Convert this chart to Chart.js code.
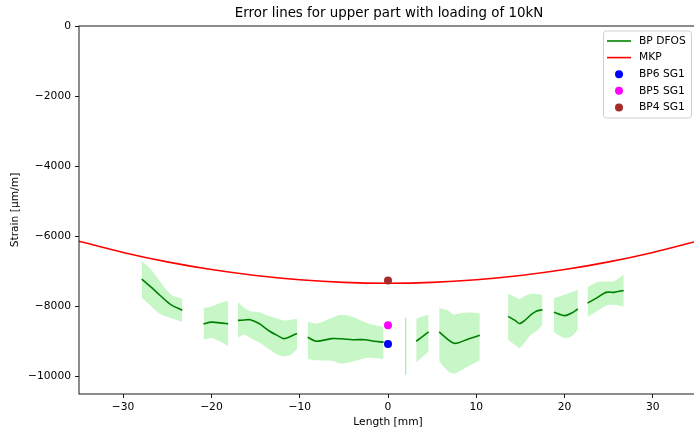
<!DOCTYPE html>
<html>
<head>
<meta charset="utf-8">
<script src="https://cdn.jsdelivr.net/npm/chart.js@4.4.1/dist/chart.umd.min.js"></script>
<style>
  html, body { margin: 0; padding: 0; overflow: hidden; background: #fff; }
  canvas { display: block; }
</style>
</head>
<body>
<canvas id="errorChart" width="701" height="432"></canvas>
<script>
// chart text
const chartTitle = "Error lines for upper part with loading of 10kN";
const xLabel = "Length [mm]";
const yLabel = "Strain [\u03bcm/m]";
const seriesNames = ["BP DFOS", "MKP", "BP6 SG1", "BP5 SG1", "BP4 SG1"];

// tick labels
const xTicks = [-30, -20, -10, 0, 10, 20, 30];
const yTicks = [0, -2000, -4000, -6000, -8000, -10000];

// MKP curve
const mkpX = [-35, -30, -25, -20, -15, -10, -5, 0, 5, 10, 15, 20, 25, 30, 35];
const mkpY = [-6140, -6460, -6730, -6950, -7120, -7240, -7315, -7340, -7315, -7240, -7120, -6950, -6730, -6460, -6140];

// DFOS segments (mean line and error band)
const dfosX = [
  [-27.9, -26.8, -25.8, -24.6, -23.3],
  [-20.9, -20.0, -19.0, -18.1],
  [-17.0, -16.3, -15.6, -14.6, -13.4, -12.5, -11.8, -11.0, -10.3],
  [-9.1, -8.1, -6.4, -5.3, -4.0, -2.6, -1.6, -0.5],
  [3.2, 4.6],
  [5.8, 6.8, 7.4, 7.9, 9.1, 10.4],
  [13.6, 14.4, 14.9, 15.5, 16.2, 16.8, 17.5],
  [18.8, 20.0, 20.8, 21.5],
  [22.6, 23.7, 24.7, 25.6, 26.7]
];
const dfosMean = [
  [-7220, -7460, -7690, -7950, -8110],
  [-8500, -8450, -8470, -8495],
  [-8400, -8390, -8380, -8490, -8710, -8835, -8920, -8855, -8770],
  [-8880, -8995, -8920, -8925, -8950, -8950, -8995, -9020],
  [-8995, -8730],
  [-8730, -8950, -9045, -9045, -8930, -8825],
  [-8285, -8400, -8490, -8400, -8235, -8140, -8095],
  [-8170, -8265, -8190, -8075],
  [-7905, -7750, -7600, -7600, -7545]
];
const dfosUpper = [
  [-6700, -6960, -7300, -7660, -7790],
  [-8050, -8000, -7900, -7840],
  [-7875, -8040, -8140, -8170, -8285, -8350, -8400, -8380, -8360],
  [-8430, -8490, -8330, -8240, -8300, -8450, -8530, -8590],
  [-8350, -8235],
  [-8045, -8120, -8235, -8210, -8175, -8200],
  [-7640, -7730, -7790, -7705, -7640, -7645, -7670],
  [-7760, -7665, -7590, -7525],
  [-7450, -7310, -7290, -7280, -7100]
];
const dfosLower = [
  [-7745, -8000, -8215, -8330, -8445],
  [-8950, -8900, -9000, -9140],
  [-8890, -8800, -8900, -9030, -9230, -9380, -9420, -9380, -9215],
  [-9500, -9540, -9550, -9630, -9570, -9470, -9480, -9500],
  [-9595, -9280],
  [-9565, -9850, -9915, -9880, -9710, -9540],
  [-8950, -9100, -9185, -9025, -8805, -8710, -8520],
  [-8740, -8900, -8855, -8665],
  [-8300, -8130, -7980, -7955, -8000]
];
// single-point band near x = 2
const sliverX = [2.0, 2.0];
const sliverY = [-8330, -9945];

// strain gauges
const gaugeX = [0, 0, 0];
const gaugeY = [-9070, -8540, -7260];
const gaugeColors = ["#0000ff", "#ff00ff", "#a52a2a"];

const green = "#008000";
const red = "#ff0000";
const bandColor = "rgba(144, 238, 144, 0.5)";

function pts(xs, ys) {
  return xs.map((x, i) => ({ x: x, y: ys[i] }));
}

function fmt(v) {
  return String(v).replace("-", "\u2212");
}

const datasets = [];

for (let i = 0; i < dfosX.length; i++) {
  datasets.push({
    data: pts(dfosX[i], dfosUpper[i]),
    borderColor: "transparent",
    borderWidth: 0,
    pointRadius: 0,
    tension: 0.3,
    fill: false,
    order: 3
  });
  datasets.push({
    data: pts(dfosX[i], dfosLower[i]),
    borderColor: "transparent",
    borderWidth: 0,
    pointRadius: 0,
    tension: 0.3,
    fill: "-1",
    backgroundColor: bandColor,
    order: 3
  });
  datasets.push({
    data: pts(dfosX[i], dfosMean[i]),
    borderColor: green,
    borderWidth: 1.6,
    pointRadius: 0,
    tension: 0.3,
    fill: false,
    order: 2
  });
}

datasets.push({
  data: pts(sliverX, sliverY),
  borderColor: bandColor,
  borderWidth: 1,
  pointRadius: 0,
  fill: false,
  order: 3
});

datasets.push({
  data: pts(mkpX, mkpY),
  borderColor: red,
  borderWidth: 1.6,
  pointRadius: 0,
  cubicInterpolationMode: "monotone",
  fill: false,
  order: 1
});

for (let i = 0; i < gaugeX.length; i++) {
  datasets.push({
    data: [{ x: gaugeX[i], y: gaugeY[i] }],
    showLine: false,
    pointRadius: 4,
    pointBorderWidth: 0,
    pointBackgroundColor: gaugeColors[i],
    order: 0
  });
}

// title, frame and legend drawn matplotlib style
const decorPlugin = {
  id: "decor",
  afterDraw(chart) {
    const ctx = chart.ctx;
    const a = chart.chartArea;
    ctx.save();

    ctx.strokeStyle = "#000";
    ctx.lineWidth = 0.9;
    ctx.strokeRect(a.left, a.top, a.right - a.left, a.bottom - a.top);

    ctx.fillStyle = "#000";
    ctx.font = '13.4px "DejaVu Sans"';
    ctx.textAlign = "center";
    ctx.textBaseline = "middle";
    ctx.fillText(chartTitle, (a.left + a.right) / 2 + 1, 14);

    // legend box
    const bx = 603.5, by = 31, bw = 88, bh = 87;
    ctx.beginPath();
    if (ctx.roundRect) {
      ctx.roundRect(bx, by, bw, bh, 3);
    } else {
      ctx.rect(bx, by, bw, bh);
    }
    ctx.fillStyle = "rgba(255,255,255,0.8)";
    ctx.fill();
    ctx.strokeStyle = "#d0d0d0";
    ctx.lineWidth = 1;
    ctx.stroke();

    const rowColors = [green, red].concat(gaugeColors);
    ctx.font = '10.7px "DejaVu Sans"';
    ctx.textAlign = "left";
    for (let i = 0; i < seriesNames.length; i++) {
      const ry = 41 + i * 16.6;
      if (i < 2) {
        ctx.strokeStyle = rowColors[i];
        ctx.lineWidth = 1.6;
        ctx.beginPath();
        ctx.moveTo(607, ry);
        ctx.lineTo(631, ry);
        ctx.stroke();
      } else {
        ctx.fillStyle = rowColors[i];
        ctx.beginPath();
        ctx.arc(619, ry, 4, 0, Math.PI * 2);
        ctx.fill();
      }
      ctx.fillStyle = "#000";
      ctx.fillText(seriesNames[i], 639, ry);
    }
    ctx.restore();
  }
};

Chart.defaults.font.family = '"DejaVu Sans"';
Chart.defaults.font.size = 10.7;
Chart.defaults.color = "#000";

new Chart(document.getElementById("errorChart").getContext("2d"), {
  type: "line",
  data: { datasets: datasets },
  options: {
    responsive: false,
    devicePixelRatio: 1,
    animation: false,
    events: [],
    layout: { padding: { top: 26, right: 3, left: 0, bottom: 0 } },
    plugins: {
      legend: { display: false },
      title: { display: false },
      tooltip: { enabled: false }
    },
    scales: {
      x: {
        type: "linear",
        min: -35,
        max: 35,
        afterBuildTicks: (s) => { s.ticks = xTicks.map((v) => ({ value: v })); },
        afterFit: (s) => { s.height = 38; },
        border: { display: false },
        grid: { drawOnChartArea: false, drawTicks: true, tickLength: 4, color: "#000", tickWidth: 0.9 },
        ticks: { padding: 3, maxRotation: 0, autoSkip: false, callback: (v) => fmt(v) },
        title: { display: true, text: xLabel, padding: { top: 0, bottom: 3 } }
      },
      y: {
        type: "linear",
        min: -10500,
        max: 0,
        afterBuildTicks: (s) => { s.ticks = yTicks.map((v) => ({ value: v })); },
        afterFit: (s) => { s.width = 79; },
        border: { display: false },
        grid: { drawOnChartArea: false, drawTicks: true, tickLength: 4, color: "#000", tickWidth: 0.9 },
        ticks: { padding: 4, autoSkip: false, callback: (v) => fmt(v) },
        title: { display: true, text: yLabel, padding: { top: 9, bottom: 0 } }
      }
    }
  },
  plugins: [decorPlugin]
});
</script>
</body>
</html>
